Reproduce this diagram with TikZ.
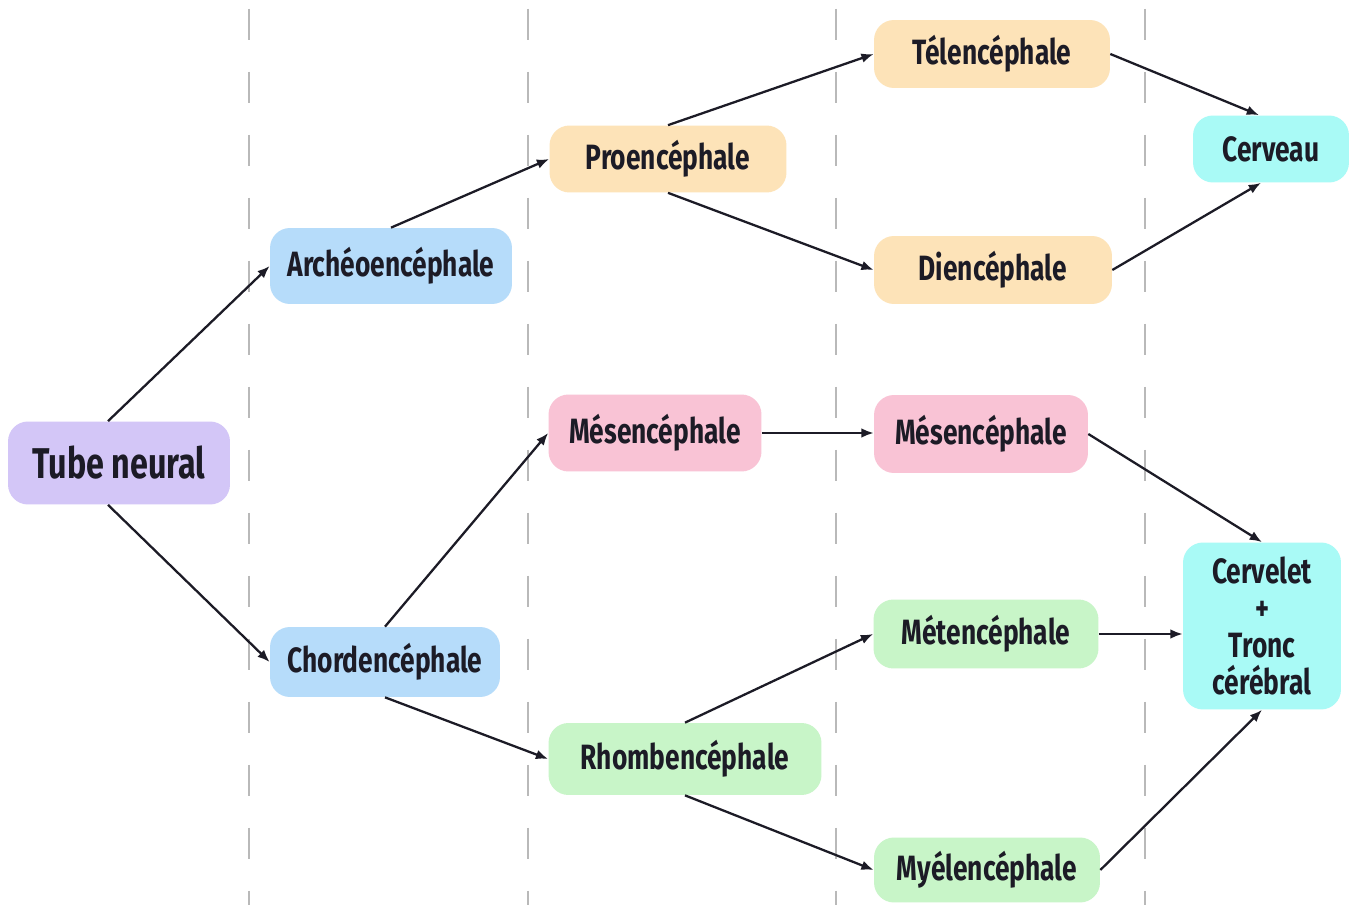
\documentclass[tikz,border=0pt]{standalone}
\usepackage{fontspec}
\setmainfont{Fira Sans}[FakeStretch=0.75]
\usetikzlibrary{arrows.meta}
\definecolor{ink}{HTML}{1C1B26}
\definecolor{lila}{HTML}{D3C6F7}
\definecolor{bleu}{HTML}{B6DCFA}
\definecolor{peche}{HTML}{FDE3B8}
\definecolor{rose}{HTML}{F9C3D5}
\definecolor{vert}{HTML}{C8F5C8}
\definecolor{cyan}{HTML}{A9FAF6}
\tikzset{
    box/.style={rounded corners=0.4cm,inner sep=0pt,align=center,text=ink,
        font=\bfseries\fontsize{20}{21}\selectfont},
    arr/.style={-{Latex[length=7pt,width=5.5pt]},line width=1.3pt,draw=ink},
    sep/.style={draw=gray!55,line width=1.6pt,dash pattern=on 0.62cm off 0.64cm}
}
\newcommand\bx[6]{\node(#1)[box,fill=#2,minimum width=#3cm,minimum height=#4cm] at #5 {#6};}

\begin{document}
\begin{tikzpicture}[x=0.02cm,y=-0.02cm]
    \useasboundingbox[fill=white] (0,0) rectangle (1356,905);
    % separateurs
    \foreach \xx in {249,528,836,1145}
        \draw[sep] (\xx,9) -- (\xx,905);
    % boites
    \bx{tn}{lila}{4.44}{1.66}{(119,463)}{\fontsize{24.5}{26}\selectfont Tube neural}
    \bx{ar}{bleu}{4.84}{1.52}{(391,266)}{Archéoencéphale}
    \bx{ch}{bleu}{4.60}{1.40}{(385,662)}{Chordencéphale}
    \bx{pr}{peche}{4.74}{1.34}{(668,159)}{Proencéphale}
    \bx{msa}{rose}{4.26}{1.54}{(655,433)}{Mésencéphale}
    \bx{rh}{vert}{5.46}{1.44}{(685,759)}{Rhombencéphale}
    \bx{te}{peche}{4.72}{1.36}{(992,54)}{Télencéphale}
    \bx{di}{peche}{4.76}{1.36}{(993,270)}{Diencéphale}
    \bx{msb}{rose}{4.28}{1.56}{(981,434)}{Mésencéphale}
    \bx{mt}{vert}{4.50}{1.38}{(986,634)}{Métencéphale}
    \bx{my}{vert}{4.52}{1.30}{(987,870)}{Myélencéphale}
    \bx{cv}{cyan}{3.12}{1.34}{(1271,149)}{Cerveau}
    \bx{ct}{cyan}{3.16}{3.34}{(1262,626)}{Cervelet\\+\\Tronc\\cérébral}
    % fleches
    \draw[arr] ([xshift=-0.22cm]tn.north) -- (ar.west);
    \draw[arr] ([xshift=-0.22cm]tn.south) -- (ch.west);
    \draw[arr] (ar.north) -- (pr.west);
    \draw[arr] (ch.north) -- (msa.west);
    \draw[arr] (ch.south) -- (rh.west);
    \draw[arr] (pr.north) -- (te.west);
    \draw[arr] (pr.south) -- (di.west);
    \draw[arr] (msa.east) -- (msa.east -| msb.west);
    \draw[arr] (rh.north) -- (mt.west);
    \draw[arr] (rh.south) -- (my.west);
    \draw[arr] (te.east) -- ([xshift=-0.24cm]cv.north);
    \draw[arr] (di.east) -- ([xshift=-0.2cm]cv.south);
    \draw[arr] (msb.east) -- (ct.north);
    \draw[arr] (mt.east) -- (mt.east -| ct.west);
    \draw[arr] (my.east) -- (ct.south);
\end{tikzpicture}
\end{document}
